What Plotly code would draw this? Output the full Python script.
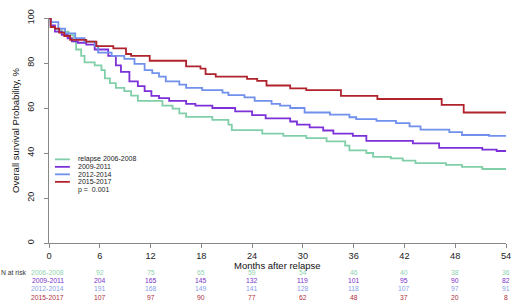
import plotly.graph_objects as go

# ---- data ----
series_names = ["relapse 2006-2008", "2009-2011", "2012-2014", "2015-2017"]
risk_labels = ["2006-2008", "2009-2011", "2012-2014", "2015-2017"]

t_0608 = [0, 0.2, 0.7, 1.5, 2.3, 2.9, 3.2, 3.8, 4.2, 5.4, 6.2, 6.6, 7.2, 7.9, 8.9, 9.7, 10.5,
          13.4, 14.6, 15.4, 16.2, 19.3, 21.2, 21.6, 25.2, 27.7, 30.4, 32.8, 35.0, 35.5, 37.5,
          38.3, 40.4, 41.8, 43.3, 46.9, 48.8, 51.2, 54]
s_0608 = [100, 96, 94.9, 93.9, 92.4, 89.6, 86, 83.2, 80.3, 78.9, 76.8, 73.2, 71.1, 68.9, 67.5,
          65.5, 63.2, 61.1, 59.7, 57.6, 56.1, 54.7, 52.6, 50.2, 48.6, 47.6, 46.6, 45.2, 43.3,
          41.2, 40, 38.3, 37.6, 36.6, 35.5, 34.7, 33.8, 32.9, 32.9]

t_0911 = [0, 0.2, 0.7, 1.5, 2.2, 2.7, 3.4, 4.4, 5.4, 7.0, 7.9, 8.5, 9.5, 10.5, 11.3, 12.1, 13.0,
          14.2, 16.2, 17.3, 19.3, 22.0, 24.0, 25.6, 28.5, 29.3, 30.8, 32.4, 33.6, 35.9, 37.5,
          43.0, 46.1, 51.2, 52.9, 54]
s_0911 = [100, 96.7, 93.9, 92.5, 91, 89.6, 89, 88.2, 86, 83.2, 78.9, 76.1, 71.8, 69.7, 67.5,
          65.4, 64.4, 63.2, 61.8, 61.1, 60, 58.5, 56.8, 55.4, 54, 52.6, 51.4, 50, 48.6, 47.6,
          45.4, 44.3, 42.3, 41.5, 40.9, 40.9]

t_1214 = [0, 0.2, 1.1, 1.9, 3.1, 4.2, 5.4, 5.8, 7.4, 8.9, 10.1, 11.3, 12.2, 13.0, 13.8, 15.4,
          16.2, 18.1, 20.5, 21.2, 23.1, 24.3, 26.3, 27.3, 28.5, 30.2, 33.2, 35.5, 36.3, 38.7,
          41.0, 42.6, 43.9, 47.3, 48.8, 52.0, 54]
s_1214 = [100, 98.2, 95.3, 93.2, 91, 89.5, 87.5, 84.6, 83.2, 81.8, 79.6, 76.8, 75.5, 73.9, 71.8,
          70.4, 68.9, 67.9, 66.8, 65.7, 64.7, 63.2, 61.8, 61.1, 60, 58, 57.1, 55.9, 55.1, 54.3,
          53.3, 51.8, 50.4, 49.3, 48, 47.6, 47.6]

t_1517 = [0, 0.2, 0.7, 1.2, 1.8, 2.5, 4.4, 5.6, 7.6, 9.1, 9.7, 11.9, 16.2, 17.9, 18.5, 19.7,
          23.4, 24.6, 25.7, 28.5, 30.4, 34.5, 38.8, 46.4, 49.0, 54]
s_1517 = [100, 96, 95.3, 93.5, 92, 90.3, 89.5, 87.5, 86.5, 84, 83.2, 81, 78.5, 77.5, 75.1, 73.9,
          72.9, 72.1, 70, 68.7, 67.9, 65.4, 64, 61.4, 58, 58]

risk_times = [6, 12, 18, 24, 30, 36, 42, 48, 54]
risk_0608 = [92, 75, 65, 59, 54, 46, 40, 38, 36]
risk_0911 = [204, 165, 145, 132, 119, 101, 95, 90, 82]
risk_1214 = [191, 168, 149, 141, 128, 118, 107, 97, 91]
risk_1517 = [107, 97, 90, 77, 62, 48, 37, 20, 8]

x_ticks = [0, 6, 12, 18, 24, 30, 36, 42, 48, 54]
y_ticks = [0, 20, 40, 60, 80, 100]
p_text = "p = \u00a00.001"

# ---- styling ----
line_colors = ["#80cfa9", "#7b30d8", "#7090ec", "#b0232d"]
text_colors = ["#8fd3b0", "#7a30cc", "#8aa0ea", "#b03040"]
FONT = "Liberation Sans, Arial, sans-serif"

times = [t_0608, t_0911, t_1214, t_1517]
survs = [s_0608, s_0911, s_1214, s_1517]
risks = [risk_0608, risk_0911, risk_1214, risk_1517]

fig = go.Figure()
for name, t, s, c in zip(series_names, times, survs, line_colors):
    fig.add_trace(go.Scatter(x=t, y=s, mode="lines", name=name,
                             line=dict(color=c, width=1.8, shape="hv"),
                             showlegend=False))

# plot area in pixels: x 49..509, y 9..243
def py2paper(py):
    return (243 - py) / 234.0

def px2paper(px):
    return (px - 49) / 460.0

annotations = []
shapes = []

# legend (manual)
leg_rows = [156.0, 163.8, 171.6, 179.4]
for name, c, py in zip(series_names, line_colors, leg_rows):
    yy = py2paper(py)
    shapes.append(dict(type="line", xref="paper", yref="paper",
                       x0=px2paper(55), x1=px2paper(70), y0=yy, y1=yy,
                       line=dict(color=c, width=1.8)))
    annotations.append(dict(xref="paper", yref="paper", x=px2paper(76), y=yy,
                            text=name, showarrow=False, xanchor="left", yanchor="middle",
                            font=dict(family=FONT, size=7, color="#222")))
annotations.append(dict(xref="paper", yref="paper", x=px2paper(76), y=py2paper(187.4),
                        text=p_text, showarrow=False, xanchor="left", yanchor="middle",
                        font=dict(family=FONT, size=7, color="#222")))

# risk table
risk_rows = [274.0, 282.4, 290.8, 299.2]
annotations.append(dict(xref="paper", yref="paper", x=px2paper(29), y=py2paper(risk_rows[0]),
                        text="N at risk", showarrow=False, xanchor="right", yanchor="middle",
                        font=dict(family=FONT, size=6.8, color="#333")))
for lab, r, tc, py in zip(risk_labels, risks, text_colors, risk_rows):
    yy = py2paper(py)
    annotations.append(dict(xref="paper", yref="paper", x=px2paper(47.5), y=yy, text=lab,
                            showarrow=False, xanchor="center", yanchor="middle",
                            font=dict(family=FONT, size=6.8, color=tc)))
    for tt, n in zip(risk_times, r):
        annotations.append(dict(xref="x", yref="paper", x=tt, y=yy, text=str(n),
                                showarrow=False, xanchor="center", yanchor="middle",
                                font=dict(family=FONT, size=6.8, color=tc)))

# x title
annotations.append(dict(xref="paper", yref="paper", x=0.5, y=py2paper(266.3),
                        text="Months after relapse", showarrow=False,
                        xanchor="center", yanchor="middle",
                        font=dict(family=FONT, size=9.5, color="#111")))

fig.update_layout(
    width=520, height=307,
    margin=dict(l=49, r=11, t=9, b=64, pad=0),
    paper_bgcolor="white", plot_bgcolor="white",
    font=dict(family=FONT, size=9.5, color="#222"),
    xaxis=dict(range=[0, 54], tickvals=x_ticks, showgrid=False, zeroline=False,
               showline=True, linecolor="#888", linewidth=1.3,
               ticks="outside", ticklen=4, tickcolor="#888", tickwidth=1,
               tickfont=dict(family=FONT, size=9.2, color="#222")),
    yaxis=dict(range=[0, 100], tickvals=y_ticks, showgrid=False, zeroline=False,
               showline=True, linecolor="#888", linewidth=1.3,
               ticks="outside", ticklen=4, tickcolor="#888", tickwidth=1,
               tickangle=-90, ticklabelstandoff=6,
               tickfont=dict(family=FONT, size=9, color="#222"),
               title=dict(text="Overall survival Probability, %", standoff=4,
                          font=dict(family=FONT, size=9.5, color="#111"))),
    annotations=annotations,
    shapes=shapes,
)

fig.write_html("out.html", config={"displayModeBar": False},
               post_script="document.body.style.margin='0';document.body.style.padding='0';")
